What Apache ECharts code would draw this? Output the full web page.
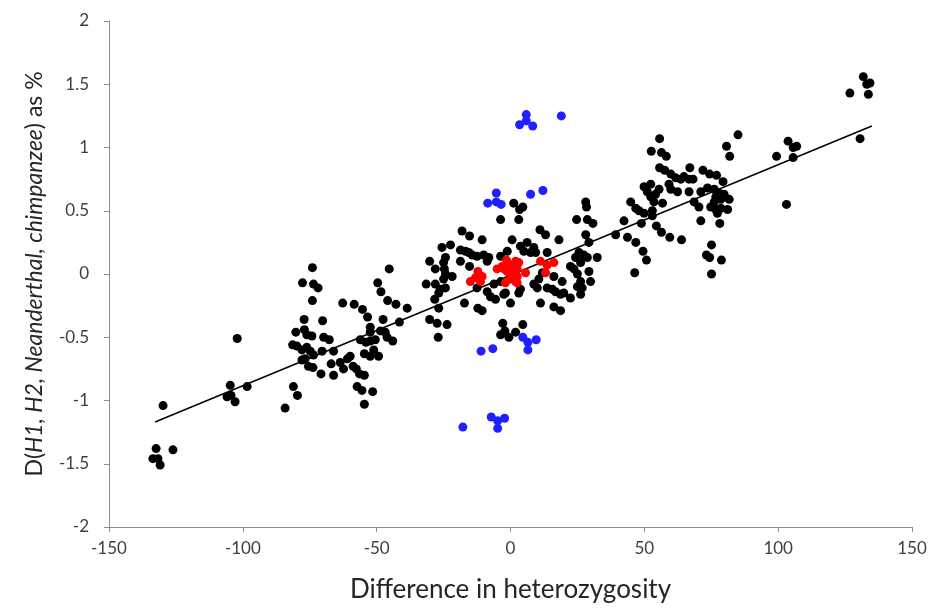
<!DOCTYPE html>
<html>
<head>
<meta charset="utf-8">
<script src="https://cdn.jsdelivr.net/npm/echarts@6/dist/echarts.min.js"></script>
<style>
html,body{margin:0;padding:0;background:#fff;}
#chart{width:935px;height:608px;}
</style>
</head>
<body>
<div id="chart"></div>
<script>
// x-axis ticks and y-axis ticks
const xTicks = { min: -150, max: 150, interval: 50 };
const yTicks = { min: -2, max: 2, interval: 0.5 };

// Black points: [difference in heterozygosity, D %]
const blackPoints = [
[-129.8,-1.04],[-132.4,-1.38],[-126.1,-1.39],[-133.6,-1.46],[-131.7,-1.46],[-130.9,-1.51],[-104.7,-0.88],[-98.4,-0.89],[-105.9,-0.97],[-104.4,-0.96],[-102.9,-1.01],[-84.2,-1.06],[-102.1,-0.51],
[-74.0,0.05],[-45.3,0.04],[-30.2,0.10],[-77.7,-0.07],[-73.6,-0.08],[-71.9,-0.11],[-49.6,-0.07],[-31.5,-0.08],[-48.4,-0.14],[-74.0,-0.21],[-45.9,-0.21],[-42.8,-0.24],[-38.6,-0.27],[-62.7,-0.23],[-58.4,-0.24],[-55.3,-0.28],[-53.4,-0.34],[-77.1,-0.36],[-70.2,-0.37],[-47.6,-0.36],[-41.5,-0.38],[-30.2,-0.36],[-80.2,-0.46],[-77.0,-0.44],[-76.1,-0.48],[-74.2,-0.49],[-69.8,-0.50],[-67.7,-0.52],[-52.4,-0.42],[-52.4,-0.46],[-48.6,-0.45],[-46.8,-0.46],[-46.1,-0.50],[-44.0,-0.53],[-81.4,-0.56],[-79.8,-0.57],[-77.9,-0.60],[-76.1,-0.58],[-74.8,-0.61],[-56.1,-0.52],[-54.0,-0.54],[-52.4,-0.53],[-50.5,-0.52],[-73.6,-0.64],[-70.4,-0.61],[-66.1,-0.61],[-54.6,-0.63],[-51.1,-0.60],[-52.4,-0.65],[-49.3,-0.65],[-77.9,-0.68],[-76.7,-0.67],[-67.0,-0.71],[-63.6,-0.70],[-60.9,-0.67],[-59.9,-0.65],[-62.4,-0.75],[-58.8,-0.73],[-57.6,-0.75],[-75.5,-0.73],[-73.8,-0.74],[-70.8,-0.79],[-66.1,-0.80],[-56.4,-0.79],[-54.6,-0.80],[-81.1,-0.89],[-79.6,-0.96],[-57.3,-0.89],[-55.5,-0.92],[-51.5,-0.93],[-54.6,-1.03],
[-25.6,0.21],[-22.4,0.23],[-24.3,0.13],[-28.1,0.04],[-24.7,0.04],[-28.1,-0.08],[-26.2,-0.12],[-24.3,-0.11],[-28.3,-0.20],
[-18.1,0.34],[-15.3,0.30],[-10.6,0.27],[-18.7,0.19],[-16.8,0.18],[-15.6,0.17],[-14.3,0.15],[-12.5,0.14],[-10.0,0.15],[-8.1,0.13],[-8.7,0.10],[-25.0,0.09],[-18.7,0.10],[-15.3,0.06],[-1.2,0.18],[-3.7,0.14],[-24.3,0.00],[-21.8,-0.02],[-25.0,-0.04],[-26.8,-0.15],[-26.8,-0.27],[-17.2,-0.23],[-12.2,-0.27],[-10.6,-0.29],[-12.5,-0.11],[-8.7,-0.14],[-7.5,-0.18],[-5.6,-0.20],[-6.2,-0.08],[-3.7,-0.06],[-1.9,-0.15],[0.0,-0.23],[-27.4,-0.39],[-23.7,-0.40],[-27.0,-0.50],[-2.9,-0.39],[-3.7,-0.48],[-0.6,-0.50],[1.9,-0.46],[-3.7,0.43],[-2.1,-0.45],[4.6,-0.40],
[3.1,0.43],[24.7,0.43],[28.7,0.43],[30.8,0.40],[11.0,0.35],[13.1,0.31],[18.1,0.27],[0.6,0.27],[28.1,0.31],[29.3,0.25],[39.3,0.31],[3.7,0.22],[6.2,0.25],[8.7,0.21],[9.4,0.17],[7.5,0.17],[5.0,0.18],[13.7,0.17],[25.6,0.17],[27.4,0.15],[24.3,0.13],[28.7,0.13],[32.4,0.13],[26.2,0.09],[22.4,0.06],[23.7,0.04],[25.0,0.00],[29.3,0.02],[29.9,-0.06],[19.3,-0.06],[16.2,-0.02],[10.6,-0.04],[11.9,0.01],[26.2,-0.06],[25.0,-0.10],[26.8,-0.11],[8.7,-0.08],[10.0,-0.11],[13.7,-0.11],[15.6,-0.12],[16.8,-0.14],[18.7,-0.16],[19.9,-0.15],[22.4,-0.19],[26.2,-0.16],[11.2,-0.23],[16.2,-0.26],[18.7,-0.29],[3.7,-0.12],[3.1,-0.15],[-2.5,-0.16],
[1.2,0.56],[3.4,0.51],[4.6,0.53],[28.1,0.57],[28.4,0.53],[42.4,0.42],[44.9,0.57],[46.8,0.52],[48.0,0.50],[43.7,0.29],[46.8,0.25],
[55.7,1.07],[85.0,1.10],[52.6,0.97],[56.4,0.96],[58.2,0.93],[80.7,1.01],[81.9,0.93],[55.7,0.84],[57.6,0.82],[67.0,0.84],[71.9,0.82],[74.4,0.79],[77.0,0.78],[79.4,0.73],[59.9,0.79],[61.7,0.76],[63.6,0.75],[64.8,0.77],[66.7,0.75],[68.2,0.75],[59.2,0.71],[59.9,0.67],[62.4,0.65],[49.9,0.69],[52.4,0.71],[51.1,0.65],[52.4,0.61],[54.2,0.63],[55.5,0.67],[66.7,0.65],[71.1,0.65],[73.6,0.68],[76.1,0.67],[77.9,0.64],[76.7,0.61],[79.8,0.63],[78.6,0.59],[81.7,0.59],[76.1,0.57],[53.6,0.57],[56.8,0.56],[68.6,0.57],[70.4,0.53],[49.9,0.48],[53.0,0.50],[53.0,0.46],[74.8,0.53],[76.7,0.51],[78.6,0.52],[81.1,0.51],[77.3,0.48],[48.9,0.40],[71.1,0.42],[78.2,0.40],[49.5,0.18],[50.8,0.11],[54.5,0.38],[56.4,0.33],[59.5,0.29],[63.9,0.27],[75.1,0.23],[73.2,0.15],[74.4,0.13],[78.8,0.11],[75.1,0.00],[46.4,0.01],
[131.8,1.56],[133.1,1.50],[134.3,1.51],[133.7,1.42],[126.8,1.43],[130.6,1.07],[103.7,1.05],[105.6,1.00],[106.9,1.01],[105.6,0.92],[99.4,0.93],[103.1,0.55]
];

// Red points
const redPoints = [
[-12.2,0.02],[-10.6,-0.02],[-13.1,-0.03],[-15.0,-0.06],[-11.2,-0.06],[-5.0,0.04],[-3.1,0.06],[-1.5,0.11],[0.0,0.07],[-1.2,0.02],[1.2,0.01],[2.5,-0.02],[1.9,-0.06],[0.0,-0.04],
[1.9,0.10],[3.1,0.09],[-2.5,0.04],[2.5,0.04],[-1.9,-0.07],[2.5,-0.07],[5.6,0.01],[11.2,0.10],[13.7,0.07],[16.2,0.09],[13.1,0.01]
];

// Blue points
const bluePoints = [
[5.9,1.26],[3.4,1.18],[5.9,1.21],[8.3,1.17],[19.0,1.25],
[-5.3,0.64],[-8.5,0.56],[-5.3,0.57],[-3.5,0.55],[7.5,0.63],[12.1,0.66],
[-11.0,-0.61],[-6.6,-0.59],[4.6,-0.50],[6.5,-0.54],[9.6,-0.52],[6.5,-0.60],
[-7.2,-1.13],[-4.8,-1.16],[-2.2,-1.14],[-4.8,-1.22],[-17.8,-1.21]
];

// Linear trend line endpoints
const trendLine = [[-132.8,-1.17],[135.0,1.17]];

const FONT = 'Lato, "Open Sans", sans-serif';
const chart = echarts.init(document.getElementById('chart'), null, {renderer:'canvas'});
chart.setOption({
  animation: false,
  backgroundColor: '#ffffff',
  grid: { left: 109, right: 23, top: 21, bottom: 80, containLabel: false },
  xAxis: {
    type: 'value', min: xTicks.min, max: xTicks.max, interval: xTicks.interval,
    name: 'Difference in heterozygosity', nameLocation: 'middle', nameGap: 50,
    nameTextStyle: { fontFamily: FONT, fontSize: 26, color: '#262626' },
    axisLine: { onZero: false, lineStyle: { color: '#8c8c8c', width: 1 } },
    axisTick: { show: true, length: 5, inside: false, lineStyle: { color: '#8c8c8c' } },
    axisLabel: { fontFamily: FONT, fontSize: 17, color: '#404040', margin: 13 },
    splitLine: { show: false }
  },
  yAxis: {
    type: 'value', min: yTicks.min, max: yTicks.max, interval: yTicks.interval,
    name: '{n|D(}{i|H1, H2, Neanderthal, chimpanzee}{n|) as %}',
    nameLocation: 'middle', nameGap: 63, nameRotate: 90,
    nameTextStyle: {
      fontFamily: FONT, fontSize: 23, color: '#262626',
      rich: {
        n: { fontFamily: FONT, fontSize: 23, color: '#262626' },
        i: { fontFamily: FONT, fontSize: 23, color: '#262626', fontStyle: 'italic' }
      }
    },
    axisLine: { onZero: false, lineStyle: { color: '#8c8c8c', width: 1 } },
    axisTick: { show: true, length: 5, inside: false, lineStyle: { color: '#8c8c8c' } },
    axisLabel: { fontFamily: FONT, fontSize: 17, color: '#404040', margin: 20 },
    splitLine: { show: false }
  },
  series: [
    { type: 'scatter', data: blackPoints, symbolSize: 9, itemStyle: { color: '#000000', opacity: 1 }, z: 2 },
    { type: 'scatter', data: bluePoints, symbolSize: 9, itemStyle: { color: '#1f1fff', opacity: 1 }, z: 3 },
    { type: 'line', data: trendLine, showSymbol: false, symbol: 'none', lineStyle: { color: '#000', width: 1.5 }, z: 4, silent: true },
    { type: 'scatter', data: redPoints, symbolSize: 9, itemStyle: { color: '#ff0000', opacity: 1 }, z: 5 }
  ]
});
</script>
</body>
</html>
